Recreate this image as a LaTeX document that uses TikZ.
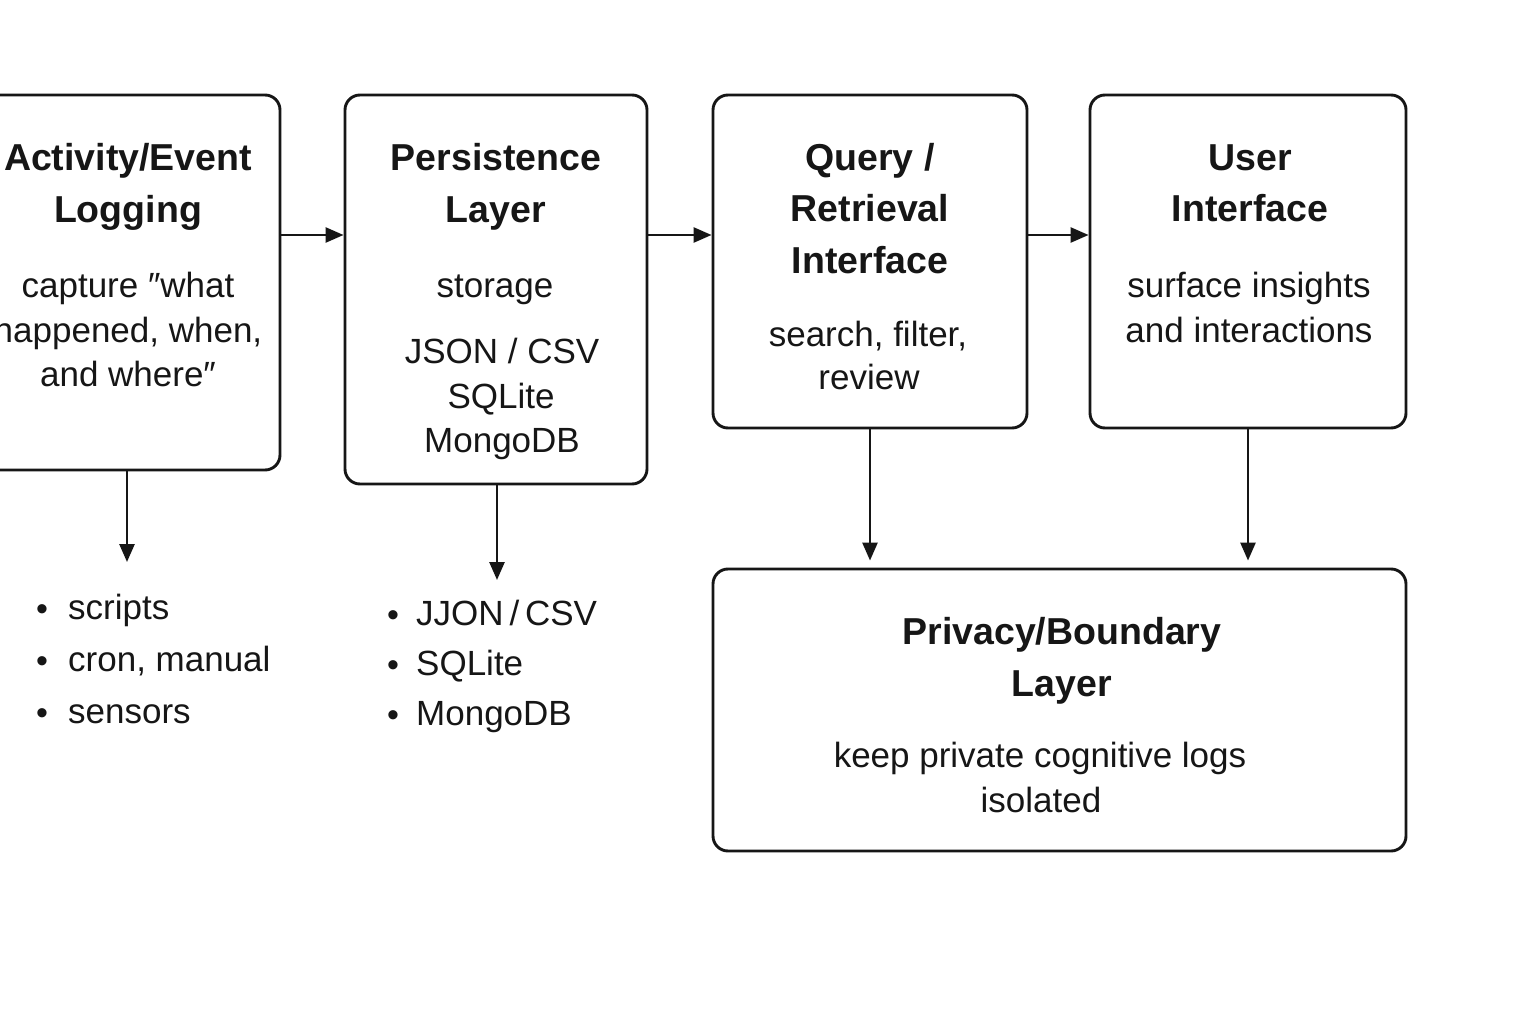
\documentclass[tikz,border=0pt]{standalone}
\usepackage{fontspec}
\setmainfont{Liberation Sans}
\usetikzlibrary{arrows.meta}
\definecolor{ink}{HTML}{161616}
\begin{document}
\begin{tikzpicture}[x=1pt,y=-1pt,
  box/.style={draw=ink, line width=2.9pt, rounded corners=15pt, inner sep=0},
  ttl/.style={font=\fontsize{37.5}{44}\selectfont\bfseries, text=ink, inner sep=0, anchor=base},
  txt/.style={font=\fontsize{35}{44}\selectfont, text=ink, inner sep=0, anchor=base},
  lst/.style={font=\fontsize{35}{44}\selectfont, text=ink, inner sep=0, anchor=base west},
  bul/.style={font=\fontsize{34}{40}\selectfont, text=ink, inner sep=0, anchor=base},
  arr/.style={draw=ink, line width=2.6pt, -{Triangle[length=18pt,width=15pt]}}]
\clip (0,0) rectangle (1536,1024);
\fill[white] (0,0) rectangle (1536,1024);

% boxes
\node[box, minimum width=304, minimum height=375] (b1) at (128,282.5) {};
\node[box, minimum width=302, minimum height=389] (b2) at (496,289.5) {};
\node[box, minimum width=314, minimum height=333] (b3) at (870,261.5) {};
\node[box, minimum width=316, minimum height=333] (b4) at (1248,261.5) {};
\node[box, minimum width=693, minimum height=282] (b5) at (1059.5,710) {};

% box 1 text
\node[ttl] (t1a) at (128,171) {Activity/Event};
\node[ttl] (t1b) at (128,223) {Logging};
\node[txt] (s1a) at (128,298) {capture ″what};
\node[txt] (s1b) at (128,342) {happened, when,};
\node[txt] (s1c) at (128,386) {and where″};

% box 2 text
\node[ttl] (t2a) at (496,171) {Persistence};
\node[ttl] (t2b) at (496,223) {Layer};
\node[txt] (s2a) at (495,298) {storage};
\node[txt] (s2b) at (502,363) {JSON / CSV};
\node[txt] (s2c) at (501,408) {SQLite};
\node[txt] (s2d) at (502,452) {MongoDB};

% box 3 text
\node[ttl] (t3a) at (870,171) {Query /};
\node[ttl] (t3b) at (870,222) {Retrieval};
\node[ttl] (t3c) at (870,273) {Interface};
\node[txt] (s3a) at (868,346) {search, filter,};
\node[txt] (s3b) at (869,389) {review};

% box 4 text
\node[ttl] (t4a) at (1250,171) {User};
\node[ttl] (t4b) at (1250,222) {Interface};
\node[txt] (s4a) at (1249,298) {surface insights};
\node[txt] (s4b) at (1249,342) {and interactions};

% box 5 text
\node[ttl] (t5a) at (1062,644) {Privacy/Boundary};
\node[ttl] (t5b) at (1062,696) {Layer};
\node[txt] (s5a) at (1040,767) {keep private cognitive logs};
\node[txt] (s5b) at (1041,812) {isolated};

% left list
\node[bul] (p1) at (42,620) {•};
\node[bul] (p2) at (42,672) {•};
\node[bul] (p3) at (42,724) {•};
\node[lst] (l1) at (68,619) {scripts};
\node[lst] (l2) at (68,671) {cron, manual};
\node[lst] (l3) at (68,723) {sensors};

% right list
\node[bul] (q1) at (393,626) {•};
\node[bul] (q2) at (393,676) {•};
\node[bul] (q3) at (393,726) {•};
\node[lst] (r1) at (416,625) {JJON\,/\,CSV};
\node[lst] (r2) at (416,675) {SQLite};
\node[lst] (r3) at (416,725) {MongoDB};

% connectors
\coordinate (row) at (0,235);
\draw[arr] (b1.east |- row) -- (b2.west |- row);
\draw[arr] (b2.east |- row) -- (b3.west |- row);
\draw[arr] (b3.east |- row) -- (b4.west |- row);

\coordinate (e1) at (127,562);
\coordinate (e2) at (497,580);
\draw[arr] (b1.south -| e1) -- (e1);
\draw[arr] (b2.south -| e2) -- (e2);
\draw[arr, shorten >=7pt] (b3.south) -- (b3.south |- b5.north);
\draw[arr, shorten >=7pt] (b4.south) -- (b4.south |- b5.north);
\end{tikzpicture}
\end{document}
